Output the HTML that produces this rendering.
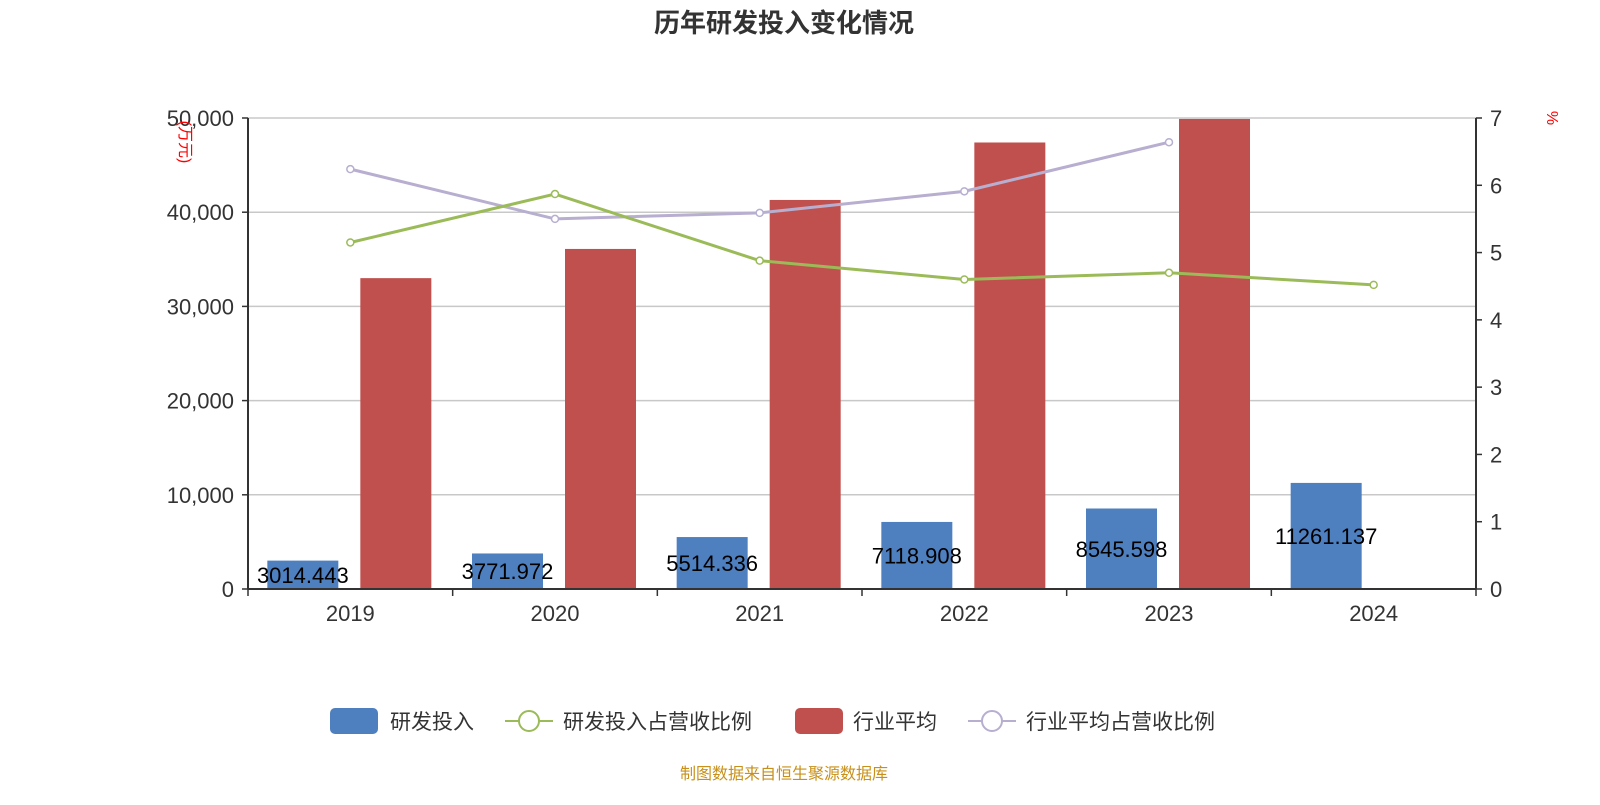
<!DOCTYPE html>
<html><head><meta charset="utf-8"><style>
body{margin:0;background:#fff;}
svg text{font-family:"Liberation Sans","Noto Sans CJK SC",sans-serif;}
</style></head><body>
<svg id="chart" width="1600" height="800" xmlns="http://www.w3.org/2000/svg">
<text x="784" y="32" text-anchor="middle" font-size="26" font-weight="bold" fill="#333">历年研发投入变化情况</text>
<g id="grid"></g><g id="bars"></g><g id="lines"></g><g id="axes"></g>
<text transform="translate(180,142) rotate(90)" font-size="16" fill="red" text-anchor="middle">(万元)</text>
<text transform="translate(1547,118) rotate(90)" font-size="16" fill="red" text-anchor="middle">%</text>
<g>
<g><rect x="330" y="708" width="48" height="26" rx="5" fill="#4e7fbf"/><text x="390" y="729" font-size="21" fill="#333">研发投入</text></g>
<g><line x1="505" y1="721" x2="553" y2="721" stroke="#9bbb59" stroke-width="2"/><circle cx="529" cy="721" r="10" fill="#fff" stroke="#9bbb59" stroke-width="2"/><text x="563" y="729" font-size="21" fill="#333">研发投入占营收比例</text></g>
<g><rect x="795" y="708" width="48" height="26" rx="5" fill="#c0504d"/><text x="853" y="729" font-size="21" fill="#333">行业平均</text></g>
<g><line x1="968" y1="721" x2="1016" y2="721" stroke="#b7aed0" stroke-width="2"/><circle cx="992" cy="721" r="10" fill="#fff" stroke="#b7aed0" stroke-width="2"/><text x="1026" y="729" font-size="21" fill="#333">行业平均占营收比例</text></g>
</g>
<text x="784" y="779" text-anchor="middle" font-size="16" fill="#c8901a">制图数据来自恒生聚源数据库</text>
</svg>
<script>
const categories=["2019","2020","2021","2022","2023","2024"];
const rdValues=[3014.443,3771.972,5514.336,7118.908,8545.598,11261.137];
const industryValues=[33000,36100,41300,47400,49900,null];
const rdRatio=[5.15,5.87,4.88,4.60,4.70,4.52];
const industryRatio=[6.24,5.50,5.59,5.91,6.64,null];
const leftTicks=[0,10000,20000,30000,40000,50000];
const rightTicks=[0,1,2,3,4,5,6,7];
const NS="http://www.w3.org/2000/svg";
const X0=248,X1=1476,Y0=589,Y1=118;
const band=(X1-X0)/categories.length;
const yL=v=>Y0-(v/50000)*(Y0-Y1);
const yR=v=>Y0-(v/7)*(Y0-Y1);
const cx=i=>X0+band*(i+0.5);
function mk(tag,attrs,parent){const e=document.createElementNS(NS,tag);for(const k in attrs)e.setAttribute(k,attrs[k]);document.getElementById(parent).appendChild(e);return e;}
const fmt=v=>v.toLocaleString('en-US');
leftTicks.forEach(t=>{
  if(t>0){const g=mk('line',{x1:X0,x2:X1,y1:yL(t),y2:yL(t),stroke:'#c8c8c8','stroke-width':1.5},'grid');
  
  }
  const l=mk('text',{x:X0-14,y:yL(t)+8,'text-anchor':'end','font-size':22,fill:'#333'},'axes');l.textContent=fmt(t);
  
  
  mk('line',{x1:X0-6,x2:X0,y1:yL(t),y2:yL(t),stroke:'#333','stroke-width':1.5},'axes');
});
rightTicks.forEach(t=>{
  const l=mk('text',{x:X1+14,y:yR(t)+8,'font-size':22,fill:'#333'},'axes');l.textContent=t;
  
  
  mk('line',{x1:X1,x2:X1+6,y1:yR(t),y2:yR(t),stroke:'#333','stroke-width':1.5},'axes');
});
mk('line',{x1:X0,x2:X0,y1:Y1,y2:Y0,stroke:'#333','stroke-width':2},'axes');
mk('line',{x1:X1,x2:X1,y1:Y1,y2:Y0,stroke:'#333','stroke-width':2},'axes');
mk('line',{x1:X0,x2:X1,y1:Y0,y2:Y0,stroke:'#333','stroke-width':2},'axes');
for(let i=0;i<=categories.length;i++){mk('line',{x1:X0+band*i,x2:X0+band*i,y1:Y0,y2:Y0+7,stroke:'#333','stroke-width':1.5},'axes');}
categories.forEach((c,i)=>{
  const l=mk('text',{x:cx(i),y:621,'text-anchor':'middle','font-size':22,fill:'#333'},'axes');l.textContent=c;
  
  
  const bw=71;
  const bx=cx(i)-47.5-bw/2;
  const b=mk('rect',{x:bx,y:yL(rdValues[i]),width:bw,height:Y0-yL(rdValues[i]),fill:'#4e7fbf'},'bars');
  
  
  if(industryValues[i]!=null){
    const r=mk('rect',{x:cx(i)+45.5-bw/2,y:yL(industryValues[i]),width:bw,height:Y0-yL(industryValues[i]),fill:'#c0504d'},'bars');
    
    
  }
  const ly=(yL(rdValues[i])+Y0)/2+8;
  const t=mk('text',{x:cx(i)-47.5,y:ly,'text-anchor':'middle','font-size':22,fill:'#000'},'bars');t.textContent=rdValues[i];
  
  
});
function line(vals,color,name){
  const pts=[];vals.forEach((v,i)=>{if(v!=null)pts.push([cx(i),yR(v)]);});
  const p=mk('polyline',{points:pts.map(p=>p.join(',')).join(' '),fill:'none',stroke:color,'stroke-width':3},'lines');
  
  
  pts.forEach(q=>{const c=mk('circle',{cx:q[0],cy:q[1],r:3.5,fill:'#fff',stroke:color,'stroke-width':1.5},'lines');
  
  });
}
line(industryRatio,'#b7aed0','industry-ratio-line');
line(rdRatio,'#9bbb59','rd-ratio-line');
</script>
</body></html>
